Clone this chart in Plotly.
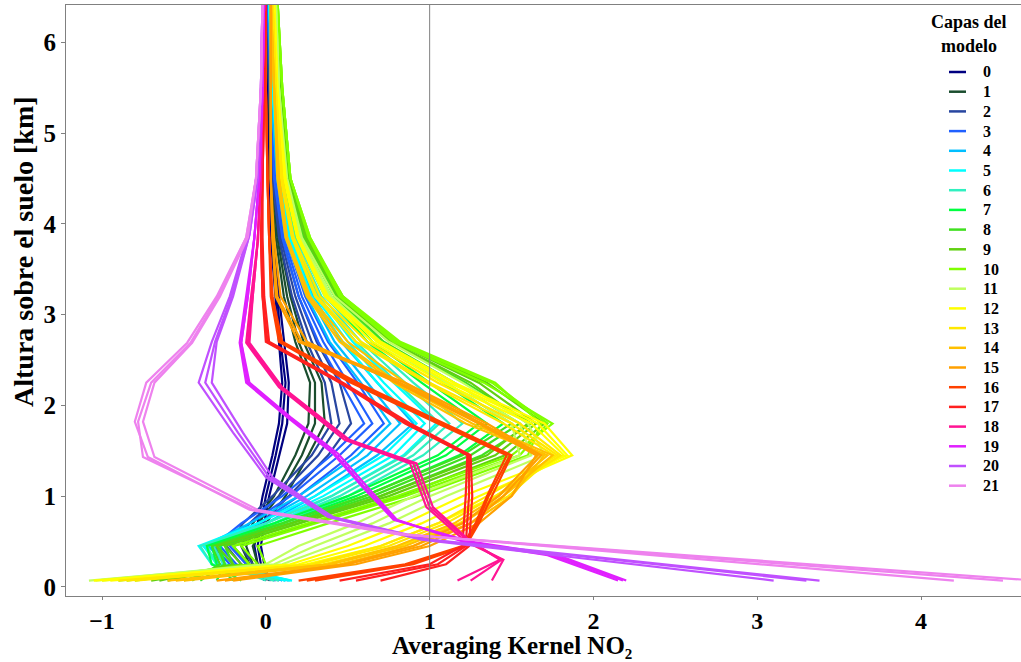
import plotly.graph_objects as go

layer_names = [str(i) for i in range(22)]
layer_colors = ["#000080", "#1a4d2e", "#2846a0", "#2060ff", "#00bfff", "#00ffff",
                "#30f0c0", "#00ff40", "#40e020", "#60d010", "#80ff00", "#c0ff60",
                "#ffff00", "#ffe800", "#ffc000", "#ffa000", "#ff4000", "#ff2020",
                "#ff1493", "#e020ff", "#c050ff", "#ee82ee"]

alt_common = [0.07, 0.25, 0.45, 0.7, 1.0, 1.45, 1.8, 2.25, 2.7, 3.2, 3.85, 4.5, 5.5, 6.5]
alt_18 = [0.07, 0.3, 0.5, 0.88, 1.36, 1.62, 2.2, 2.69, 3.2, 3.8, 4.5, 5.5, 6.5]
alt_19 = [0.07, 0.35, 0.5, 0.74, 1.1, 1.47, 1.87, 2.25, 2.69, 3.2, 3.85, 4.5, 5.5, 6.5]
alt_20 = [0.07, 0.52, 0.77, 1.21, 1.7, 2.25, 2.7, 3.2, 3.88, 4.5, 5.5, 6.5]
alt_21 = [0.07, 0.58, 0.85, 1.43, 1.82, 2.25, 2.69, 3.2, 3.85, 4.5, 5.5, 6.5]

ak_0 = [[0.0, -0.03, -0.05, -0.03, 0.0, 0.06, 0.1, 0.12, 0.09, 0.07, 0.03, 0.02, 0.01, 0.0],
        [0.02, -0.01, -0.03, -0.01, 0.02, 0.08, 0.13, 0.14, 0.11, 0.08, 0.04, 0.02, 0.01, 0.0],
        [-0.01, -0.05, -0.07, -0.05, -0.02, 0.04, 0.08, 0.1, 0.08, 0.06, 0.03, 0.02, 0.01, 0.0]]
ak_1 = [[0.02, -0.08, -0.12, -0.05, 0.08, 0.22, 0.3, 0.3, 0.2, 0.13, 0.07, 0.04, 0.02, 0.01],
        [0.04, -0.05, -0.08, 0.0, 0.12, 0.26, 0.36, 0.34, 0.23, 0.15, 0.08, 0.04, 0.02, 0.01],
        [0.0, -0.1, -0.15, -0.08, 0.05, 0.18, 0.26, 0.27, 0.18, 0.11, 0.06, 0.03, 0.02, 0.01]]
ak_2 = [[0.05, -0.12, -0.2, -0.1, 0.08, 0.32, 0.45, 0.4, 0.28, 0.18, 0.09, 0.05, 0.02, 0.01],
        [0.06, -0.08, -0.15, -0.03, 0.14, 0.38, 0.52, 0.45, 0.31, 0.2, 0.1, 0.05, 0.03, 0.01],
        [0.03, -0.15, -0.24, -0.14, 0.04, 0.28, 0.4, 0.36, 0.25, 0.16, 0.08, 0.04, 0.02, 0.01]]
ak_3 = [[0.08, -0.18, -0.28, -0.1, 0.15, 0.45, 0.65, 0.5, 0.35, 0.22, 0.11, 0.06, 0.03, 0.01],
        [0.1, -0.12, -0.22, -0.04, 0.2, 0.52, 0.72, 0.56, 0.38, 0.24, 0.12, 0.06, 0.03, 0.02],
        [0.06, -0.22, -0.32, -0.15, 0.1, 0.4, 0.6, 0.46, 0.32, 0.2, 0.1, 0.05, 0.03, 0.01]]
ak_4 = [[0.12, -0.25, -0.35, -0.05, 0.25, 0.62, 0.82, 0.62, 0.42, 0.27, 0.13, 0.07, 0.03, 0.02],
        [0.1, -0.2, -0.3, 0.0, 0.3, 0.68, 0.9, 0.68, 0.46, 0.29, 0.14, 0.08, 0.04, 0.02],
        [0.14, -0.28, -0.38, -0.1, 0.2, 0.56, 0.76, 0.58, 0.39, 0.25, 0.12, 0.07, 0.03, 0.02]]
ak_5 = [[0.15, -0.3, -0.38, 0.0, 0.35, 0.78, 0.97, 0.72, 0.5, 0.3, 0.15, 0.08, 0.04, 0.02],
        [0.12, -0.25, -0.33, 0.05, 0.4, 0.84, 1.04, 0.78, 0.53, 0.32, 0.16, 0.09, 0.04, 0.02],
        [0.16, -0.33, -0.41, -0.05, 0.3, 0.72, 0.92, 0.68, 0.47, 0.28, 0.14, 0.08, 0.04, 0.02]]
ak_6 = [[0.05, -0.3, -0.36, 0.05, 0.45, 0.9, 1.12, 0.85, 0.58, 0.34, 0.17, 0.09, 0.05, 0.03],
        [0.0, -0.26, -0.32, 0.1, 0.5, 0.96, 1.2, 0.9, 0.62, 0.36, 0.18, 0.1, 0.05, 0.03],
        [0.08, -0.33, -0.4, 0.0, 0.4, 0.85, 1.06, 0.8, 0.55, 0.32, 0.16, 0.09, 0.05, 0.03]]
ak_7 = [[-0.2, -0.3, -0.33, 0.1, 0.55, 1.1, 1.35, 1.0, 0.65, 0.4, 0.2, 0.11, 0.06, 0.04],
        [-0.3, -0.25, -0.28, 0.15, 0.6, 1.18, 1.45, 1.08, 0.7, 0.42, 0.22, 0.12, 0.07, 0.05],
        [-0.15, -0.33, -0.36, 0.05, 0.5, 1.05, 1.3, 0.95, 0.62, 0.38, 0.19, 0.11, 0.06, 0.04]]
ak_8 = [[-0.4, -0.25, -0.3, 0.15, 0.65, 1.25, 1.55, 1.15, 0.72, 0.43, 0.23, 0.13, 0.08, 0.05],
        [-0.5, -0.2, -0.25, 0.2, 0.7, 1.32, 1.62, 1.22, 0.76, 0.45, 0.24, 0.14, 0.09, 0.06],
        [-0.45, -0.28, -0.33, 0.1, 0.6, 1.2, 1.5, 1.1, 0.7, 0.42, 0.22, 0.13, 0.08, 0.05]]
ak_9 = [[-0.6, -0.15, -0.25, 0.2, 0.75, 1.4, 1.65, 1.3, 0.78, 0.45, 0.25, 0.14, 0.09, 0.06],
        [-0.7, -0.1, -0.2, 0.28, 0.82, 1.46, 1.7, 1.35, 0.8, 0.47, 0.26, 0.15, 0.1, 0.07],
        [-0.65, -0.2, -0.3, 0.15, 0.7, 1.35, 1.6, 1.25, 0.76, 0.44, 0.24, 0.14, 0.09, 0.06]]
ak_10 = [[-0.8, -0.05, -0.15, 0.3, 0.85, 1.55, 1.72, 1.38, 0.8, 0.46, 0.27, 0.15, 0.1, 0.07],
         [-0.9, 0.0, -0.05, 0.38, 0.92, 1.6, 1.68, 1.4, 0.82, 0.47, 0.27, 0.15, 0.1, 0.07],
         [-0.85, -0.1, -0.2, 0.25, 0.8, 1.5, 1.75, 1.33, 0.78, 0.45, 0.26, 0.15, 0.1, 0.07]]
ak_11 = [[-1.0, 0.1, 0.4, 0.75, 1.1, 1.7, 1.6, 1.2, 0.75, 0.42, 0.22, 0.13, 0.08, 0.06],
         [-1.08, 0.05, 0.3, 0.65, 1.0, 1.62, 1.55, 1.15, 0.7, 0.4, 0.21, 0.12, 0.08, 0.06],
         [-1.04, 0.0, 0.2, 0.55, 0.9, 1.55, 1.5, 1.1, 0.68, 0.39, 0.2, 0.12, 0.08, 0.06]]
ak_12 = [[-1.05, 0.2, 0.6, 0.95, 1.3, 1.87, 1.7, 1.15, 0.7, 0.38, 0.2, 0.12, 0.07, 0.05],
         [-0.95, 0.25, 0.7, 1.05, 1.4, 1.82, 1.62, 1.08, 0.65, 0.36, 0.19, 0.11, 0.07, 0.05],
         [-1.0, 0.15, 0.5, 0.85, 1.2, 1.84, 1.66, 1.12, 0.68, 0.37, 0.2, 0.12, 0.07, 0.05]]
ak_13 = [[-0.9, 0.3, 0.75, 1.1, 1.4, 1.8, 1.55, 1.05, 0.62, 0.33, 0.17, 0.1, 0.06, 0.04],
         [-0.8, 0.35, 0.82, 1.18, 1.48, 1.76, 1.45, 0.98, 0.55, 0.3, 0.16, 0.09, 0.06, 0.04],
         [-0.85, 0.28, 0.7, 1.05, 1.35, 1.78, 1.5, 1.0, 0.58, 0.31, 0.16, 0.1, 0.06, 0.04]]
ak_14 = [[-0.6, 0.4, 0.85, 1.2, 1.45, 1.75, 1.3, 0.85, 0.5, 0.27, 0.13, 0.08, 0.05, 0.03],
         [-0.5, 0.45, 0.9, 1.25, 1.5, 1.7, 1.22, 0.78, 0.45, 0.25, 0.12, 0.07, 0.05, 0.03],
         [-0.55, 0.38, 0.8, 1.15, 1.42, 1.72, 1.26, 0.8, 0.47, 0.26, 0.13, 0.08, 0.05, 0.03]]
ak_15 = [[-0.3, 0.5, 0.95, 1.25, 1.45, 1.68, 1.35, 0.85, 0.22, 0.07, 0.04, 0.03, 0.03, 0.03],
         [-0.2, 0.55, 1.0, 1.3, 1.5, 1.65, 1.3, 0.8, 0.25, 0.09, 0.05, 0.03, 0.03, 0.03],
         [-0.25, 0.48, 0.9, 1.2, 1.42, 1.66, 1.32, 0.82, 0.2, 0.06, 0.04, 0.03, 0.03, 0.03]]
ak_16 = [[0.3, 0.9, 1.22, 1.3, 1.38, 1.5, 1.09, 0.56, 0.1, 0.04, 0.02, 0.01, 0.0, 0.0],
         [0.2, 0.85, 1.2, 1.28, 1.35, 1.47, 1.05, 0.52, 0.08, 0.03, 0.02, 0.01, 0.0, 0.0],
         [0.25, 0.88, 1.21, 1.29, 1.36, 1.49, 1.07, 0.54, 0.09, 0.04, 0.02, 0.01, 0.0, 0.0]]
ak_17 = [[0.45, 1.0, 1.2, 1.21, 1.22, 1.23, 0.85, 0.45, 0.0, -0.02, -0.03, -0.02, -0.01, 0.0],
         [0.7, 1.1, 1.24, 1.25, 1.26, 1.25, 0.88, 0.47, 0.02, -0.01, -0.02, -0.02, -0.01, 0.0],
         [0.55, 1.05, 1.22, 1.23, 1.24, 1.24, 0.86, 0.46, 0.01, -0.02, -0.03, -0.02, -0.01, 0.0]]
ak_18 = [[1.17, 1.43, 1.25, 1.02, 0.92, 0.51, 0.1, -0.1, -0.08, -0.05, -0.03, -0.02, -0.01],
         [1.38, 1.45, 1.22, 0.98, 0.88, 0.48, 0.08, -0.12, -0.09, -0.05, -0.03, -0.02, -0.01],
         [1.25, 1.44, 1.24, 1.0, 0.9, 0.5, 0.09, -0.11, -0.08, -0.05, -0.03, -0.02, -0.01]]
ak_19 = [[2.2, 1.78, 1.25, 0.78, 0.59, 0.41, 0.13, -0.12, -0.16, -0.12, -0.07, -0.04, -0.02, -0.01],
         [2.15, 1.72, 1.2, 0.8, 0.62, 0.44, 0.15, -0.1, -0.15, -0.11, -0.07, -0.04, -0.02, -0.01],
         [2.18, 1.75, 1.22, 0.79, 0.6, 0.42, 0.14, -0.11, -0.15, -0.11, -0.07, -0.04, -0.02, -0.01]]
ak_20 = [[3.38, 1.0, 0.41, 0.04, -0.14, -0.33, -0.3, -0.2, -0.1, -0.05, -0.03, -0.02],
         [3.1, 0.95, 0.38, 0.0, -0.2, -0.41, -0.33, -0.22, -0.11, -0.06, -0.03, -0.02],
         [3.3, 0.98, 0.4, 0.02, -0.17, -0.37, -0.31, -0.21, -0.1, -0.05, -0.03, -0.02]]
ak_21 = [[4.7, 0.8, -0.1, -0.72, -0.8, -0.73, -0.48, -0.3, -0.12, -0.06, -0.03, -0.02],
         [4.2, 0.85, -0.05, -0.68, -0.75, -0.68, -0.45, -0.28, -0.11, -0.06, -0.03, -0.02],
         [4.5, 0.82, -0.08, -0.75, -0.78, -0.7, -0.46, -0.29, -0.12, -0.06, -0.03, -0.02]]

layer_profiles = [ak_0, ak_1, ak_2, ak_3, ak_4, ak_5, ak_6, ak_7, ak_8, ak_9, ak_10,
                  ak_11, ak_12, ak_13, ak_14, ak_15, ak_16, ak_17, ak_18, ak_19, ak_20, ak_21]
layer_alts = [alt_common] * 18 + [alt_18, alt_19, alt_20, alt_21]

SERIF = "Liberation Serif"
W, H = 1021, 662
ML, MR, MT, MB = 66, 0, 5, 66
PW, PH = W - ML - MR, H - MT - MB


def px_to_paper_x(px):
    return (px - ML) / PW


def py_to_paper_y(py):
    return (H - MB - py) / PH


fig = go.Figure()
for i, name in enumerate(layer_names):
    for j, prof in enumerate(layer_profiles[i]):
        fig.add_trace(go.Scatter(
            x=prof, y=layer_alts[i], mode="lines",
            line=dict(color=layer_colors[i], width=2.2),
            name=name, legendgroup=name, showlegend=False,
        ))

shapes = [dict(type="line", xref="x", yref="paper", x0=1, x1=1, y0=0, y1=1,
               line=dict(color="#808080", width=1), layer="above")]
annotations = []

# legend (drawn manually to match the compact key layout)
annotations.append(dict(text="<b>Capas del</b>", xref="paper", yref="paper",
                        x=px_to_paper_x(969), y=py_to_paper_y(22), xanchor="center",
                        yanchor="middle", showarrow=False,
                        font=dict(family=SERIF, size=18, color="black")))
annotations.append(dict(text="<b>modelo</b>", xref="paper", yref="paper",
                        x=px_to_paper_x(969), y=py_to_paper_y(46), xanchor="center",
                        yanchor="middle", showarrow=False,
                        font=dict(family=SERIF, size=18, color="black")))
for i, name in enumerate(layer_names):
    yc = py_to_paper_y(72 + 19.7 * i)
    shapes.append(dict(type="line", xref="paper", yref="paper",
                       x0=px_to_paper_x(949), x1=px_to_paper_x(966), y0=yc, y1=yc,
                       line=dict(color=layer_colors[i], width=2.5)))
    annotations.append(dict(text="<b>%s</b>" % name, xref="paper", yref="paper",
                            x=px_to_paper_x(981), y=yc, xanchor="left", yanchor="middle",
                            showarrow=False,
                            font=dict(family=SERIF, size=16, color="black")))

# axis titles
annotations.append(dict(text="<b>Averaging Kernel NO\u2082</b>", xref="paper", yref="paper",
                        x=px_to_paper_x(512), y=py_to_paper_y(645), xanchor="center",
                        yanchor="middle", showarrow=False,
                        font=dict(family=SERIF, size=25, color="black")))
annotations.append(dict(text="<b>Altura sobre el suelo [km]</b>", xref="paper", yref="paper",
                        x=px_to_paper_x(23), y=py_to_paper_y(252), xanchor="center",
                        yanchor="middle", textangle=-90, showarrow=False,
                        font=dict(family=SERIF, size=28, color="black")))

fig.update_layout(
    width=W, height=H,
    margin=dict(l=ML, r=MR, t=MT, b=MB),
    paper_bgcolor="white", plot_bgcolor="white",
    font=dict(family=SERIF, color="black"),
    showlegend=False,
    shapes=shapes,
    annotations=annotations,
    xaxis=dict(
        range=[-1.22, 4.61], tickvals=[-1, 0, 1, 2, 3, 4],
        showgrid=False, zeroline=False,
        showline=True, linecolor="#808080", linewidth=1, mirror=True,
        ticks="outside", ticklen=3, tickcolor="#808080",
        tickfont=dict(family=SERIF, size=24, color="black", weight="bold"),
    ),
    yaxis=dict(
        range=[-0.1, 6.41], tickvals=[0, 1, 2, 3, 4, 5, 6],
        showgrid=False, zeroline=False,
        showline=True, linecolor="#808080", linewidth=1,
        ticks="outside", ticklen=4, tickcolor="#808080",
        tickfont=dict(family=SERIF, size=25, color="black", weight="bold"),
    ),
)

fig.write_html("out.html")
